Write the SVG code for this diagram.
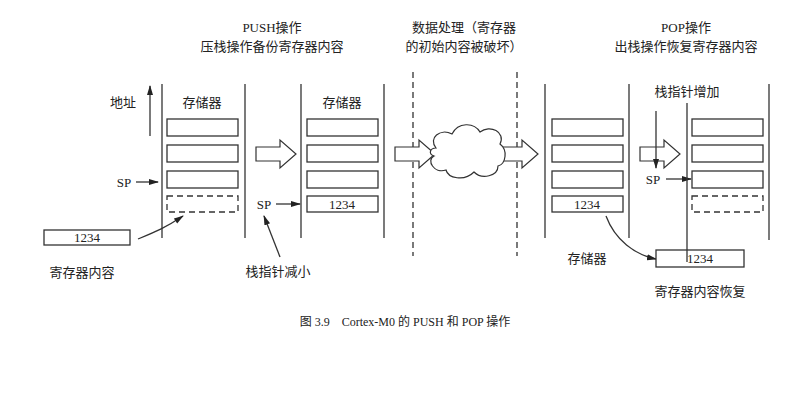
<svg xmlns="http://www.w3.org/2000/svg" width="810" height="406" viewBox="0 0 810 406">
<style>
text{font-family:"Liberation Serif","Noto Sans CJK SC",serif;font-size:13px;fill:#222;text-anchor:middle}
.l{stroke:#333;stroke-width:1.3;fill:none}
.b{stroke:#333;stroke-width:1.3;fill:#fff}
.d{stroke:#333;stroke-width:1.3;fill:none;stroke-dasharray:6 4}
.h{stroke:#333;stroke-width:1.2;fill:#fff}
</style>
<defs>
<marker id="a" markerWidth="10" markerHeight="8" refX="9" refY="4" orient="auto" markerUnits="userSpaceOnUse"><path d="M0,1 L10,4 L0,7 Z" fill="#222"/></marker>
<path id="ha" d="M0,-7 H24 V-14 L40,0 L24,14 V7 H0 Z"/>
</defs>
<rect width="810" height="406" fill="#fff"/>
<g id="titles">
<text x="272" y="32">PUSH操作</text>
<text x="272" y="51">压栈操作备份寄存器内容</text>
<text x="464" y="32">数据处理（寄存器</text>
<text x="464" y="51">的初始内容被破坏）</text>
<text x="686" y="32">POP操作</text>
<text x="686" y="51">出栈操作恢复寄存器内容</text>
</g>
<g id="stack1">
<line class="l" x1="162" y1="84" x2="162" y2="238"/><line class="l" x1="245" y1="84" x2="245" y2="238"/>
<text x="202" y="107">存储器</text>
<rect class="b" x="167" y="119" width="71" height="17"/><rect class="b" x="167" y="145" width="71" height="17"/><rect class="b" x="167" y="171" width="71" height="17"/>
<rect class="d" x="167" y="196" width="71" height="16"/>
<text x="123" y="107">地址</text>
<line class="l" x1="150" y1="136" x2="150" y2="86" marker-end="url(#a)"/>
<text x="124" y="187">SP</text>
<line class="l" x1="136" y1="182" x2="158" y2="182" marker-end="url(#a)"/>
</g>
<g id="reg1"><rect class="b" x="44" y="230" width="86" height="15"/><text x="87" y="242">1234</text><text x="82" y="277">寄存器内容</text></g>
<g id="stack2">
<line class="l" x1="301" y1="84" x2="301" y2="238"/><line class="l" x1="384" y1="84" x2="384" y2="238"/>
<text x="342" y="107">存储器</text>
<rect class="b" x="307" y="119" width="71" height="17"/><rect class="b" x="307" y="145" width="71" height="17"/><rect class="b" x="307" y="171" width="71" height="17"/>
<rect class="b" x="307" y="196" width="71" height="16"/><text x="342" y="209">1234</text>
<text x="264" y="209">SP</text>
<text x="278" y="276">栈指针减小</text>
</g>
<g id="data">
<line class="d" x1="413" y1="72" x2="413" y2="256"/><line class="d" x1="517" y1="72" x2="517" y2="256"/>
</g>
<g id="connectors">
<use href="#ha" class="h" transform="translate(256,154)"/>
<use href="#ha" class="h" transform="translate(395,154)"/>
<use href="#ha" class="h" transform="translate(498,154)"/>
<use href="#ha" class="h" transform="translate(640,154)"/>
<path class="h" stroke-width="2" d="M436,148 C428,138 440,128 452,134 C458,122 474,122 480,132 C490,124 506,132 500,144 C508,150 506,164 498,166 C498,176 482,180 474,172 C464,182 448,178 446,170 C434,174 426,160 434,156 C428,154 430,148 436,148 Z"/>
<path class="l" d="M138,239 C155,232 165,228 183,216" marker-end="url(#a)"/>
<line class="l" x1="276" y1="204" x2="300" y2="204" marker-end="url(#a)"/>
<line class="l" x1="280" y1="257" x2="264" y2="216" marker-end="url(#a)"/>
<path class="l" d="M606,216 C615,240 635,255 656,259" marker-end="url(#a)"/>
<line class="l" x1="656" y1="111" x2="656" y2="168" marker-end="url(#a)"/>
<line class="l" x1="666" y1="179" x2="691" y2="179" marker-end="url(#a)"/>
</g>
<g id="stack3">
<line class="l" x1="545" y1="84" x2="545" y2="238"/><line class="l" x1="629" y1="84" x2="629" y2="238"/>
<rect class="b" x="552" y="119" width="71" height="17"/><rect class="b" x="552" y="145" width="71" height="17"/><rect class="b" x="552" y="171" width="71" height="17"/>
<rect class="b" x="552" y="196" width="71" height="16"/><text x="587" y="209">1234</text>
<text x="587" y="263">存储器</text>
</g>
<g id="stack4">
<line class="l" x1="687" y1="103" x2="687" y2="258"/><line class="l" x1="769" y1="84" x2="769" y2="240"/>
<rect class="b" x="692" y="119" width="71" height="17"/><rect class="b" x="692" y="145" width="71" height="17"/><rect class="b" x="692" y="171" width="71" height="17"/>
<rect class="d" x="692" y="196" width="71" height="16"/>
<text x="687" y="96">栈指针增加</text>
<text x="653" y="184">SP</text>
</g>
<g id="reg2"><rect class="b" x="656" y="250" width="88" height="17"/><line class="l" x1="687" y1="250" x2="687" y2="262"/><text x="700" y="263">1234</text><text x="700" y="296">寄存器内容恢复</text></g>
<text x="405" y="326" style="font-size:12px;white-space:pre">图 3.9    Cortex-M0 的 PUSH 和 POP 操作</text>
</svg>
